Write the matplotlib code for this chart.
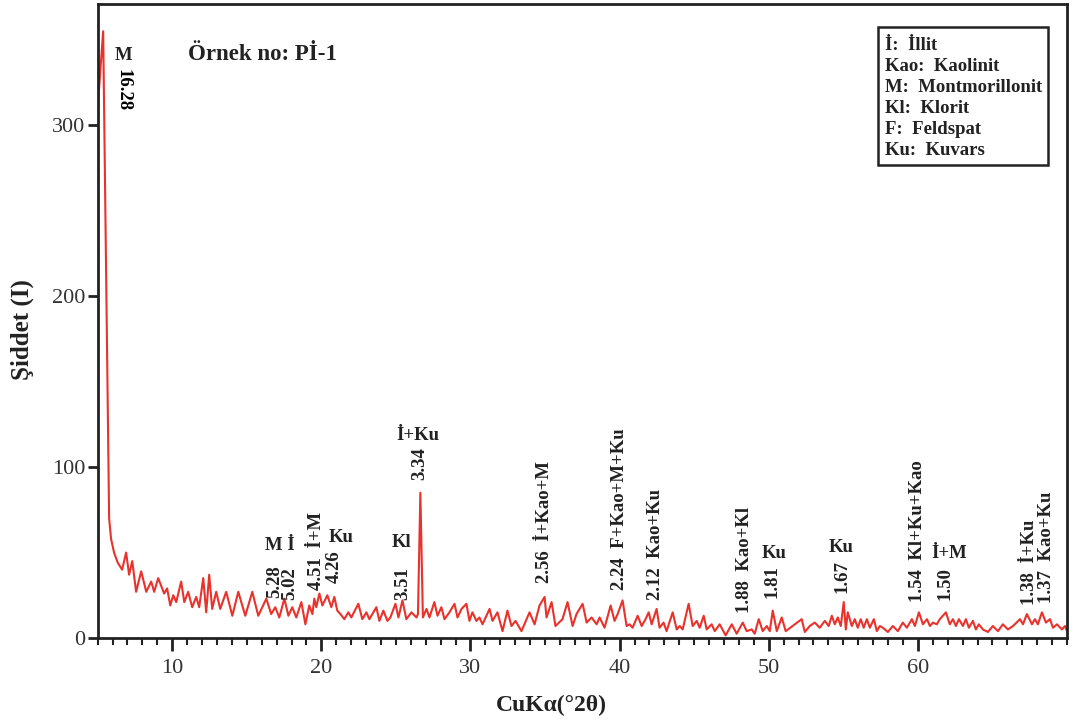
import matplotlib
matplotlib.use("Agg")
import matplotlib.pyplot as plt
from matplotlib.patches import Rectangle
from matplotlib.ticker import FixedLocator, MultipleLocator

plt.rcParams['font.family'] = ['Liberation Serif', 'DejaVu Serif']

# (2theta, intensity)
scan = [
    (5.0, 310), (5.37, 355), (5.77, 70), (5.9, 58), (6.1, 50), (6.35, 44), (6.64, 40), (6.91, 50),
    (7.11, 37), (7.32, 45), (7.58, 27), (7.92, 39), (8.26, 27), (8.59, 33), (8.79, 27), (9.06, 35),
    (9.46, 26), (9.66, 29), (9.87, 19), (10.07, 25), (10.27, 21), (10.60, 33), (10.81, 21), (11.07, 27),
    (11.34, 18), (11.61, 24), (11.81, 18), (12.08, 35), (12.28, 15), (12.48, 37), (12.68, 17), (12.95, 27),
    (13.22, 17), (13.62, 27), (14.03, 13), (14.43, 27), (14.90, 13), (15.37, 27), (15.77, 13), (16.31, 23),
    (16.64, 14), (16.91, 18), (17.18, 12), (17.52, 23), (17.79, 13), (18.05, 18), (18.32, 12), (18.66, 21),
    (18.93, 8), (19.19, 19), (19.40, 14), (19.53, 23), (19.66, 18), (19.87, 26), (20.07, 19), (20.40, 25),
    (20.67, 18), (20.87, 24), (21.07, 16), (21.28, 14), (21.54, 11), (21.81, 15), (22.01, 12), (22.48, 20),
    (22.75, 11), (23.02, 15), (23.22, 11), (23.69, 18), (23.89, 10), (24.16, 16), (24.43, 10), (24.63, 12),
    (24.97, 20), (25.17, 12), (25.44, 22), (25.70, 11), (26.04, 15), (26.38, 12), (26.48, 14), (26.64, 85),
    (26.81, 12), (27.05, 17), (27.25, 12), (27.58, 21), (27.79, 13), (28.05, 18), (28.26, 11), (28.59, 15),
    (28.93, 20), (29.13, 12), (29.40, 17), (29.73, 20), (29.93, 10), (30.13, 15), (30.40, 10), (30.60, 12),
    (30.81, 8), (31.28, 17), (31.48, 10), (31.81, 15), (32.15, 4), (32.48, 16), (32.75, 7), (33.02, 10),
    (33.42, 4), (33.96, 15), (34.30, 8), (34.63, 19), (34.97, 24), (35.10, 12), (35.44, 21), (35.70, 7),
    (36.17, 11), (36.51, 21), (36.85, 7), (37.11, 14), (37.52, 20), (37.79, 9), (38.12, 12), (38.46, 8),
    (38.66, 12), (38.99, 6), (39.40, 19), (39.66, 10), (39.87, 14), (40.20, 22), (40.47, 7), (40.67, 8),
    (40.87, 6), (41.21, 13), (41.48, 7), (41.74, 11), (41.95, 15), (42.15, 8), (42.48, 17), (42.68, 6),
    (42.95, 9), (43.15, 4), (43.56, 15), (43.83, 5), (44.03, 7), (44.23, 5), (44.63, 20), (44.90, 7),
    (45.17, 10), (45.37, 6), (45.64, 13), (45.84, 5), (46.17, 8), (46.38, 4), (46.71, 8), (47.11, 1.5),
    (47.52, 8), (47.85, 2.5), (48.26, 9), (48.52, 4), (48.86, 5), (49.06, 2.5), (49.33, 11), (49.60, 4),
    (49.87, 7), (50.07, 4), (50.27, 16), (50.54, 4), (50.87, 12), (51.14, 4), (51.75, 8), (52.21, 11),
    (52.42, 3.5), (52.75, 7), (53.09, 9), (53.42, 6), (53.76, 10), (54.02, 7), (54.23, 13), (54.43, 8),
    (54.63, 12), (54.83, 7), (55.03, 21), (55.17, 5), (55.30, 15), (55.57, 7), (55.77, 11), (55.97, 6),
    (56.17, 11), (56.37, 6), (56.58, 11), (56.78, 6), (57.05, 11), (57.25, 4), (57.45, 7), (57.65, 6),
    (57.99, 3.5), (58.32, 7), (58.66, 4), (58.99, 9), (59.26, 6), (59.60, 11), (59.80, 7), (60.07, 15),
    (60.34, 8), (60.61, 11), (60.81, 7), (61.01, 9), (61.27, 8), (61.47, 11), (61.88, 15), (62.14, 8),
    (62.35, 11), (62.55, 7), (62.75, 11), (63.02, 7), (63.22, 11), (63.42, 6), (63.69, 10), (63.89, 5),
    (64.09, 8), (64.36, 5), (64.70, 3.5), (65.03, 7), (65.37, 4), (65.70, 8), (66.04, 5), (66.38, 7),
    (66.85, 11), (67.05, 8), (67.31, 14), (67.65, 8), (67.85, 11), (68.05, 8), (68.32, 15), (68.59, 9),
    (68.86, 11), (69.06, 6), (69.33, 8), (69.66, 5), (69.87, 7), (70.0, 4),
]
two_theta = [p[0] for p in scan]
intensity = [p[1] for p in scan]

x_ticks = [10, 20, 30, 40, 50, 60]
y_ticks = [0, 100, 200, 300]

# vertical peak labels: (text, x, y of bottom end)
vlabels = [
    ("5.28", 16.84, 23.4), ("5.02", 17.85, 22.2), ("4.51  İ+M", 19.66, 28),
    ("4.26", 20.87, 32), ("3.51", 25.43, 22), ("3.34", 26.57, 92.4),
    ("2.56  İ+Kao+M", 34.96, 32), ("2.24  F+Kao+M+Ku", 39.99, 28),
    ("2.12  Kao+Ku", 42.40, 22), ("1.88  Kao+Kl", 48.37, 14.6),
    ("1.81", 50.19, 23.4), ("1.67", 54.88, 26.3), ("1.54  Kl+Ku+Kao", 59.98, 21),
    ("1.50", 61.79, 22.2), ("1.38  İ+Ku", 67.49, 19.3), ("1.37  Kao+Ku", 68.63, 20.5),
]
# horizontal mineral labels: (text, x, y)
hlabels = [
    ("M", 6.71, 341), ("M İ", 17.2, 54), ("Ku", 21.34, 58.5), ("Kl", 25.36, 56),
    ("İ+Ku", 26.44, 118.7), ("Ku", 50.39, 49.7), ("Ku", 54.88, 53.2), ("İ+M", 62.13, 49.7),
]
legend_lines = ["İ:  İllit", "Kao:  Kaolinit", "M:  Montmorillonit",
                "Kl:  Klorit", "F:  Feldspat", "Ku:  Kuvars"]

fig = plt.figure(figsize=(10.73, 7.23), dpi=100)
ax = fig.add_axes([0.091, 0.1176, 0.9034, 0.877])
ax.plot(two_theta, intensity, color="#e8322b", lw=1.5)
ax.set_xlim(5, 70)
ax.set_ylim(0, 371)

ax.xaxis.set_major_locator(FixedLocator(x_ticks))
ax.xaxis.set_minor_locator(MultipleLocator(1))
ax.yaxis.set_major_locator(FixedLocator(y_ticks))
ax.tick_params(axis="x", which="major", direction="out", length=9, width=2, labelsize=16, pad=6, color="#222222")
ax.tick_params(axis="x", which="minor", direction="out", length=5, width=1.5, color="#222222")
ax.tick_params(axis="y", which="major", direction="out", length=7, width=2, labelsize=16, pad=2, color="#222222")
for lab in ax.get_xticklabels() + ax.get_yticklabels():
    lab.set_color("#333333")
for s in ax.spines.values():
    s.set_linewidth(2)
    s.set_color("#222222")

ax.set_xlabel("CuKα(°2θ)", fontsize=17, fontweight="bold", color="#222222")
ax.set_ylabel("Şiddet (I)", fontsize=18, fontweight="bold", color="#222222")
ax.xaxis.set_label_coords(0.468, -0.09)
ax.yaxis.set_label_coords(-0.066, 0.487)

ax.text(6.71, 333, "16.28", rotation=-90, ha="center", va="top", fontsize=13.5, fontweight="bold")
for txt, x, y in vlabels:
    ax.text(x, y, txt, rotation=90, ha="center", va="bottom", fontsize=13.5, fontweight="bold",
            color="#222222")
for txt, x, y in hlabels:
    ax.text(x, y, txt, ha="center", va="center", fontsize=13.5, fontweight="bold", color="#222222")

ax.text(0.093, 0.92, "Örnek no: Pİ-1", transform=ax.transAxes, ha="left", va="center",
        fontsize=16.5, fontweight="bold", color="#222222")

ax.add_patch(Rectangle((0.805, 0.746), 0.175, 0.218, transform=ax.transAxes,
                       fill=False, lw=1.8, edgecolor="#222222"))
for i, line in enumerate(legend_lines):
    ax.text(0.812, 0.935 - i * 0.0331, line, transform=ax.transAxes, ha="left", va="center",
            fontsize=13.5, fontweight="bold", color="#222222")

fig.savefig("out.png", dpi=100)
